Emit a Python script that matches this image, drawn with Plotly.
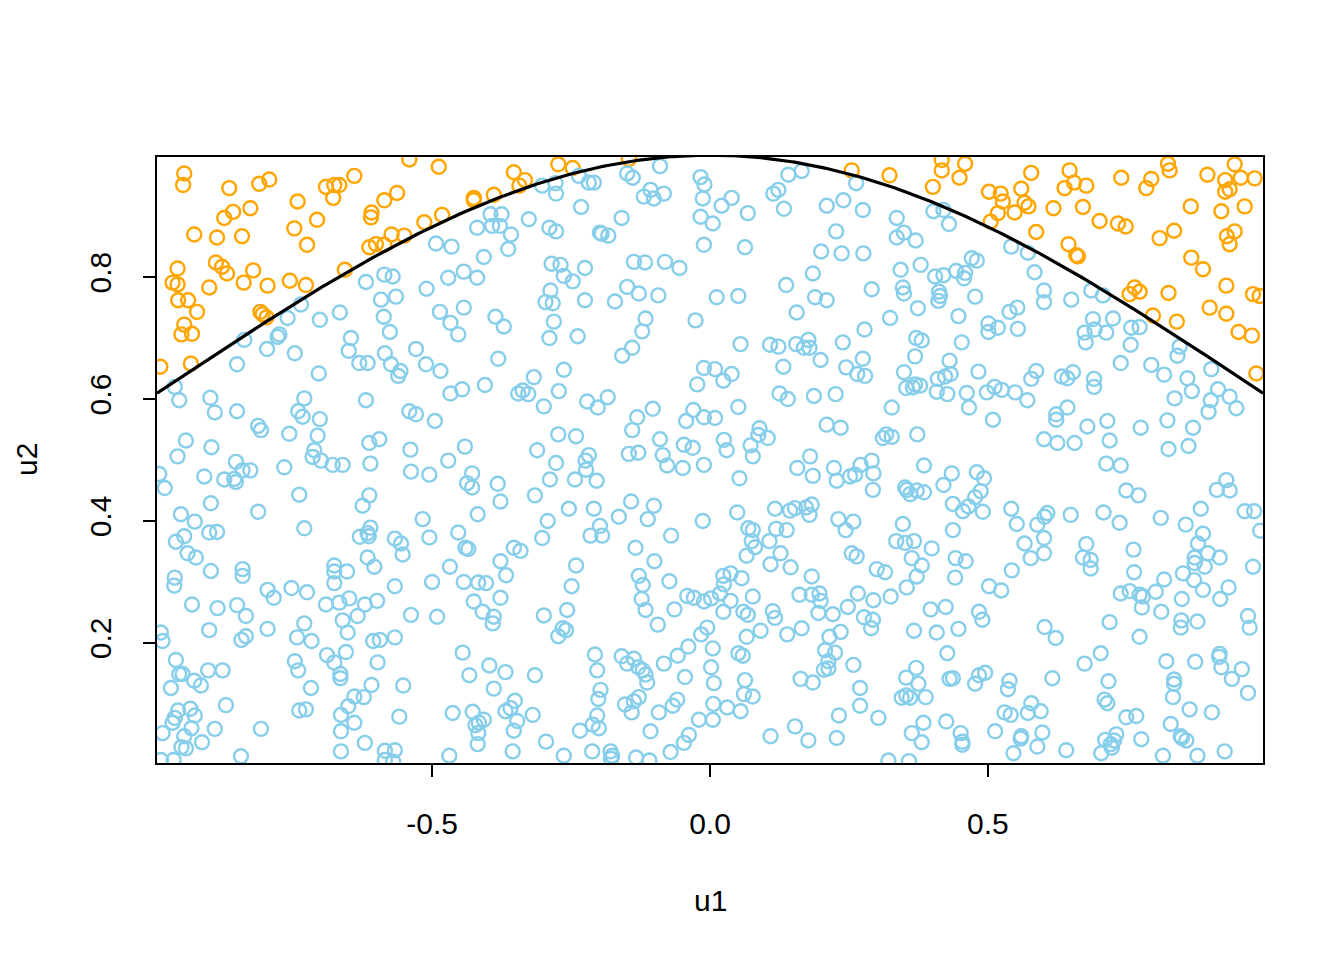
import numpy as np
import plotly.graph_objects as go

# Sample coordinates
u1 = [
    -0.541, -0.946, -0.948, -0.865, -0.811, -0.793, -0.640, -0.691, -0.676, -0.667, -0.678, -0.742, -0.827, -0.858,
    -0.874, -0.609, -0.610, -0.586, -0.563, -0.707, -0.748, -0.514, -0.928, -0.887, -0.842, -0.573, -0.550, -0.725,
    -0.613, -0.601, -0.586, -0.889, -0.878, -0.869, -0.958, -0.822, -0.967, -0.958, -0.839, -0.756, -0.796, -0.727,
    -0.901, -0.657, -0.957, -0.939, -0.923, -0.809, -0.805, -0.798, -0.946, -0.951, -0.932,
    -0.586, -0.571, -0.619, -0.510, -0.592, -0.565, -0.736, -0.666, -0.587, -0.760, -0.702, -0.576, -0.646, -0.775,
    -0.778, -0.838,
    -0.488, -0.353, -0.333, -0.343, -0.273, -0.247, -0.146, -0.425, -0.425, -0.389, -0.482,
    -0.302, -0.278, -0.277, -0.236, -0.218, -0.209, -0.149, -0.139, -0.090, -0.232, -0.119, -0.107, -0.101, -0.083,
    -0.159, -0.395, -0.375, -0.419, -0.392, -0.378, -0.358, -0.326, -0.289, -0.277, -0.198, -0.195, -0.183, -0.493,
    -0.465, -0.363, -0.407, -0.285, -0.269, -0.225, -0.263, -0.247, -0.443, -0.471, -0.419, -0.137, -0.117, -0.081,
    -0.055, -0.149, -0.128, -0.093, -0.171, -0.225, -0.287, -0.296, -0.283, -0.486, -0.443, -0.467, -0.386, -0.371,
    -0.281, -0.116, -0.122, -0.026, -0.453, -0.289, -0.238, -0.017, -0.010, -0.013, -0.017, 0.005, -0.011,
    0.255, 0.323, 0.417, 0.417, 0.459, 0.449, 0.401, 0.502, 0.505,
    0.141, 0.165, 0.263, 0.114, 0.123, 0.039, 0.021, 0.068, 0.133, 0.210, 0.240, 0.275, 0.336, 0.402, 0.420, 0.430,
    0.227, 0.336, 0.349, 0.370, 0.063, 0.200, 0.237, 0.276, 0.343, 0.379, 0.185, 0.137, 0.405, 0.420, 0.443, 0.459,
    0.457, 0.471, 0.480, 0.012, 0.051, 0.189, 0.210, 0.291, 0.347, 0.349, 0.412, 0.414, 0.411, 0.477, 0.156, 0.374,
    0.324, 0.447, 0.501, 0.501, 0.278,
    0.578, 0.647, 0.655, 0.638, 0.677, 0.740, 0.824, 0.827, 0.794, 0.785, 0.895, 0.944, 0.955, 0.980, 0.927, 0.927,
    0.935, 0.523, 0.527, 0.560, 0.566, 0.573, 0.518, 0.548, 0.618, 0.671, 0.865, 0.920, 0.962, 0.701, 0.734, 0.748,
    0.587, 0.835, 0.809, 0.930, 0.944, 0.935, 0.645, 0.659, 0.662, 0.866, 0.887, 0.929, 0.977, 0.989, 0.764, 0.755,
    0.773, 0.825, 0.899, 0.929, 0.797, 0.840, 0.951, 0.975,
    0.542, 0.572, 0.584, 0.601, 0.601, 0.650, 0.686, 0.707, 0.539, 0.553, 0.518, 0.554, 0.689, 0.692, 0.674, 0.713,
    0.725, 0.758, 0.773,
    -0.989, -0.934,
    -0.963, -0.797, -0.747, -0.851, -0.704, -0.650, -0.631, -0.616, -0.585, -0.574, -0.557, -0.561, -0.529, -0.511,
    -0.955, -0.899, -0.891, -0.851, -0.730, -0.741, -0.733, -0.702, -0.619, -0.541, -0.529, -0.495, -0.813, -0.808,
    -0.757, -0.706, -0.943, -0.897, -0.958, -0.613, -0.595, -0.539, -0.712, -0.715, -0.700, -0.679, -0.661, -0.611,
    -0.853, -0.841, -0.827, -0.766, -0.874, -0.856, -0.853, -0.910, -0.991, -0.981, -0.538, -0.505, -0.739, -0.613,
    -0.625, -0.898, -0.952, -0.927, -0.813, -0.730, -0.517, -0.611, -0.616, -0.630, -0.614, -0.901, -0.887, -0.946,
    -0.961, -0.567, -0.556, -0.505,
    -0.381, -0.158, -0.140, -0.011, -0.023, -0.485, -0.263, -0.317, -0.405, -0.467, -0.446, -0.345, -0.337, -0.327,
    -0.272, -0.299, -0.221, -0.202, -0.184, -0.103, -0.131, -0.140, -0.030, -0.043, -0.011, -0.273, -0.241, -0.090,
    -0.441, -0.311, -0.146, -0.129, -0.218, -0.224, -0.223, -0.277, -0.471, -0.047, -0.031, -0.085, -0.077, -0.049,
    -0.011, -0.428, -0.437, -0.428, -0.382, -0.288, -0.243, -0.204, -0.315, -0.377, -0.418, -0.254, -0.209, -0.142,
    -0.101, -0.164, -0.112, -0.013, -0.292, -0.453, -0.302, -0.215, -0.194, -0.198, -0.070, -0.440, -0.435, -0.353,
    -0.341, -0.134,
    0.055, 0.108, 0.123, 0.155, 0.169, 0.179, 0.177, 0.239, 0.371, 0.381, 0.453, 0.199, 0.275, 0.245, 0.265, 0.279,
    0.132, 0.009, 0.039, 0.024, 0.369, 0.349, 0.431, 0.410, 0.423, 0.433, 0.353, 0.365, 0.369, 0.378, 0.408, 0.427,
    0.483, 0.462, 0.498, 0.466, 0.125, 0.140, 0.187, 0.226, 0.051, 0.327, 0.009, 0.210, 0.235, 0.089, 0.087, 0.104,
    0.025, 0.030, 0.073, 0.077, 0.311, 0.317, 0.327, 0.373, 0.180, 0.157, 0.185, 0.223, 0.228, 0.252, 0.261, 0.271,
    0.291, 0.294, 0.293, 0.385, 0.053, 0.435, 0.420, 0.480, 0.493, 0.351, 0.354, 0.360, 0.372, 0.385, 0.487, 0.477,
    0.465, 0.455, 0.437, 0.491, 0.049, 0.117, 0.144, 0.153, 0.173, 0.183, 0.179, 0.231, 0.258, 0.244, 0.347, 0.437,
    0.069, 0.077, 0.075, 0.119, 0.138, 0.107, 0.335, 0.351, 0.367, 0.081, 0.399,
    0.983, 0.676, 0.757, 0.845, 0.841, 0.739, 0.794, 0.817, 0.859, 0.902, 0.587, 0.578, 0.633, 0.643, 0.653, 0.691,
    0.691, 0.512, 0.525, 0.549, 0.571, 0.867, 0.836, 0.914, 0.901, 0.897, 0.935, 0.947, 0.509, 0.643, 0.623, 0.623,
    0.679, 0.715, 0.775, 0.823, 0.869, 0.601, 0.625, 0.656, 0.719, 0.825, 0.861, 0.713, 0.739, 0.929, 0.912, 0.935,
    0.749, 0.771, 0.542, 0.607, 0.602, 0.589, 0.552, 0.649, 0.708, 0.737, 0.811, 0.883, 0.856, 0.962, 0.979, 0.990,
    0.887, 0.878, 0.601, 0.566, 0.677, 0.762,
    -0.940, -0.925, -0.898, -0.841, -0.841, -0.963, -0.964, -0.676, -0.676, -0.653, -0.676, -0.616, -0.604, -0.553,
    -0.500, -0.567, -0.796, -0.785, -0.753, -0.725, -0.932, -0.886, -0.851, -0.835, -0.691, -0.667, -0.649, -0.621,
    -0.599, -0.634, -0.661, -0.652, -0.538, -0.988, -0.985, -0.901, -0.843, -0.835, -0.796, -0.730, -0.743, -0.717,
    -0.606, -0.594, -0.567, -0.961, -0.689, -0.676, -0.655, -0.747, -0.741, -0.598, -0.955, -0.949, -0.903, -0.877,
    -0.928, -0.916, -0.970, -0.665, -0.665, -0.718, -0.609, -0.552, -0.640, -0.623, -0.651, -0.871, -0.957, -0.935,
    -0.927, -0.963, -0.967, -0.985, -0.739, -0.727, -0.664, -0.640, -0.559, -0.933, -0.891, -0.808, -0.946, -0.951,
    -0.943, -0.914, -0.664, -0.621, -0.664, -0.585, -0.567, -0.585, -0.570, -0.844, -0.988, -0.965,
    -0.377, -0.468, -0.241, -0.100, -0.367, -0.443, -0.417, -0.403, -0.128, -0.121, -0.123, -0.116, -0.073, -0.249,
    -0.377, -0.425, -0.409, -0.389, -0.391, -0.491, -0.299, -0.257, -0.273, -0.265, -0.259, -0.041, -0.029, -0.011,
    0.002, -0.064, -0.094, -0.016, -0.005, -0.445, -0.207, -0.159, -0.149, -0.137, -0.129, -0.121, -0.116, -0.113,
    -0.203, -0.083, -0.058, -0.039, 0.005, 0.002, 0.007, -0.397, -0.433, -0.368, -0.315, -0.045, -0.389, -0.197,
    -0.201, -0.128, -0.137, -0.153, -0.141, -0.059, -0.067, -0.092, -0.351, -0.359, -0.368, -0.347, -0.319, -0.463,
    -0.427, -0.407, -0.416, -0.422, -0.417, -0.418, -0.353, -0.203, -0.211, -0.200, -0.234, -0.107, -0.020, 0.005,
    -0.038, -0.047, -0.295, -0.355, -0.469, -0.263, -0.212, -0.179, -0.176, -0.178, -0.133, -0.109, -0.071,
    0.066, 0.127, 0.255, 0.264, 0.363, 0.442, 0.460, 0.109, 0.145, 0.024, 0.037, 0.025, 0.057, 0.183, 0.300, 0.315,
    0.381, 0.372, 0.354, 0.441, 0.502, 0.018, 0.037, 0.077, 0.161, 0.183, 0.197, 0.199, 0.266, 0.294, 0.325, 0.248,
    0.024, 0.060, 0.068, 0.113, 0.117, 0.195, 0.221, 0.277, 0.293, 0.290, 0.397, 0.424, 0.484, 0.490, 0.091, 0.066,
    0.139, 0.165, 0.235, 0.215, 0.367, 0.408, 0.447, 0.051, 0.059, 0.207, 0.225, 0.213, 0.205, 0.213, 0.258, 0.427,
    0.371, 0.353, 0.375, 0.431, 0.437, 0.484, 0.477, 0.495, 0.063, 0.163, 0.185, 0.270, 0.345, 0.353, 0.360, 0.388,
    0.061, 0.077, 0.006, 0.031, 0.055, 0.270, 0.232, 0.303, 0.153, 0.109, 0.177, 0.228, 0.384, 0.363, 0.381, 0.425,
    0.451, 0.454, 0.454, 0.321, 0.358,
    0.577, 0.601, 0.671, 0.685, 0.685, 0.872, 0.872, 0.890, 0.896, 0.917, 0.977, 0.543, 0.763, 0.851, 0.871, 0.887,
    0.817, 0.933, 0.918, 0.524, 0.739, 0.755, 0.773, 0.779, 0.777, 0.802, 0.849, 0.812, 0.719, 0.848, 0.847, 0.877,
    0.968, 0.971, 0.602, 0.622, 0.773, 0.703, 0.674, 0.821, 0.873, 0.917, 0.916, 0.920, 0.939, 0.957, 0.539, 0.536,
    0.616, 0.717, 0.835, 0.835, 0.833, 0.968, 0.710, 0.715, 0.578, 0.530, 0.541, 0.572, 0.595, 0.749, 0.767, 0.863,
    0.903, 0.829, 0.513, 0.560, 0.559, 0.598, 0.589, 0.546, 0.641, 0.731, 0.711, 0.727, 0.721, 0.723, 0.704, 0.776,
    0.847, 0.849, 0.857, 0.815, 0.877, 0.926,
]
u2 = [
    0.993, 0.970, 0.951, 0.946, 0.953, 0.960, 0.966, 0.948, 0.951, 0.951, 0.930, 0.924, 0.913, 0.907,
    0.897, 0.906, 0.898, 0.926, 0.938, 0.894, 0.880, 0.890, 0.870, 0.865, 0.867, 0.870, 0.868, 0.853,
    0.849, 0.854, 0.853, 0.824, 0.817, 0.806, 0.814, 0.811, 0.791, 0.788, 0.791, 0.794, 0.786, 0.787,
    0.783, 0.812, 0.762, 0.762, 0.743, 0.743, 0.739, 0.734, 0.722, 0.706, 0.707,
    0.804, 0.801, 0.792, 0.781, 0.763, 0.768, 0.755, 0.742, 0.735, 0.733, 0.730, 0.710, 0.700, 0.706,
    0.702, 0.697,
    0.981, 0.972, 0.959, 0.950, 0.985, 0.979, 0.994, 0.930, 0.926, 0.935, 0.902,
    0.950, 0.954, 0.937, 0.966, 0.955, 0.955, 0.970, 0.963, 0.982, 0.915, 0.932, 0.943, 0.929, 0.937,
    0.897, 0.903, 0.903, 0.881, 0.884, 0.884, 0.870, 0.895, 0.881, 0.875, 0.873, 0.871, 0.868, 0.855,
    0.850, 0.846, 0.833, 0.822, 0.820, 0.815, 0.802, 0.793, 0.809, 0.799, 0.799, 0.825, 0.824, 0.825,
    0.815, 0.784, 0.773, 0.770, 0.760, 0.762, 0.778, 0.759, 0.757, 0.743, 0.750, 0.725, 0.735, 0.719,
    0.727, 0.732, 0.711, 0.729, 0.706, 0.700, 0.703, 0.964, 0.952, 0.929, 0.899, 0.888, 0.853,
    0.975, 0.967, 0.992, 0.975, 0.986, 0.963, 0.948, 0.940, 0.891,
    0.968, 0.974, 0.954, 0.937, 0.943, 0.930, 0.917, 0.905, 0.912, 0.917, 0.926, 0.910, 0.897, 0.908, 0.910, 0.887,
    0.875, 0.865, 0.873, 0.860, 0.849, 0.842, 0.839, 0.839, 0.812, 0.820, 0.806, 0.787, 0.801, 0.803, 0.810, 0.807,
    0.798, 0.831, 0.827, 0.767, 0.769, 0.767, 0.762, 0.780, 0.783, 0.773, 0.776, 0.769, 0.761, 0.768, 0.742, 0.749,
    0.733, 0.736, 0.724, 0.710, 0.714,
    0.971, 0.975, 0.955, 0.946, 0.950, 0.963, 0.986, 0.975, 0.961, 0.946, 0.968, 0.985, 0.963, 0.962, 0.959, 0.940,
    0.944, 0.937, 0.924, 0.945, 0.922, 0.916, 0.905, 0.906, 0.913, 0.915, 0.916, 0.908, 0.916, 0.892, 0.888, 0.883,
    0.874, 0.876, 0.864, 0.867, 0.875, 0.854, 0.854, 0.836, 0.834, 0.832, 0.813, 0.786, 0.772, 0.769, 0.783, 0.772,
    0.776, 0.774, 0.750, 0.740, 0.737, 0.727, 0.710, 0.704,
    0.850, 0.840, 0.808, 0.778, 0.759, 0.763, 0.778, 0.770, 0.743, 0.750, 0.717, 0.715, 0.731, 0.714, 0.709, 0.709,
    0.732, 0.717, 0.718,
    0.653, 0.658,
    0.620, 0.682, 0.675, 0.657, 0.642, 0.679, 0.659, 0.659, 0.675, 0.657, 0.646, 0.638, 0.682, 0.657,
    0.598, 0.602, 0.578, 0.580, 0.601, 0.580, 0.571, 0.567, 0.598, 0.580, 0.575, 0.564, 0.556, 0.549,
    0.543, 0.540, 0.532, 0.521, 0.506, 0.528, 0.534, 0.517, 0.516, 0.505, 0.499, 0.492, 0.492, 0.494,
    0.497, 0.483, 0.483, 0.488, 0.468, 0.469, 0.464, 0.473, 0.477, 0.454, 0.481, 0.476, 0.443, 0.442,
    0.425, 0.429, 0.411, 0.399, 0.415, 0.388, 0.403, 0.389, 0.380, 0.374, 0.375, 0.381, 0.382, 0.375,
    0.366, 0.371, 0.363, 0.373,
    0.666, 0.671, 0.684, 0.651, 0.624, 0.646, 0.648, 0.636, 0.623, 0.609, 0.616, 0.609, 0.614, 0.608,
    0.613, 0.588, 0.596, 0.586, 0.603, 0.584, 0.570, 0.549, 0.582, 0.564, 0.570, 0.542, 0.539, 0.534,
    0.522, 0.516, 0.510, 0.512, 0.508, 0.499, 0.484, 0.495, 0.499, 0.525, 0.520, 0.508, 0.491, 0.487,
    0.492, 0.478, 0.462, 0.455, 0.461, 0.468, 0.468, 0.466, 0.442, 0.432, 0.411, 0.420, 0.420, 0.432,
    0.425, 0.407, 0.403, 0.400, 0.400, 0.381, 0.372, 0.376, 0.376, 0.392, 0.376, 0.356, 0.354, 0.356,
    0.351, 0.356,
    0.690, 0.689, 0.686, 0.690, 0.684, 0.684, 0.697, 0.693, 0.700, 0.696, 0.693, 0.664, 0.666, 0.652, 0.641, 0.638,
    0.653, 0.649, 0.641, 0.630, 0.670, 0.644, 0.663, 0.633, 0.637, 0.641, 0.618, 0.619, 0.624, 0.622, 0.612, 0.608,
    0.645, 0.610, 0.611, 0.586, 0.609, 0.600, 0.605, 0.608, 0.587, 0.586, 0.569, 0.558, 0.553, 0.552, 0.541, 0.536,
    0.533, 0.516, 0.524, 0.506, 0.536, 0.542, 0.538, 0.542, 0.506, 0.487, 0.474, 0.487, 0.466, 0.473, 0.476, 0.492,
    0.499, 0.478, 0.451, 0.491, 0.470, 0.478, 0.459, 0.480, 0.470, 0.455, 0.451, 0.444, 0.450, 0.447, 0.449, 0.439,
    0.424, 0.416, 0.428, 0.415, 0.414, 0.420, 0.417, 0.421, 0.422, 0.427, 0.410, 0.403, 0.399, 0.385, 0.395, 0.385,
    0.388, 0.385, 0.367, 0.387, 0.385, 0.367, 0.367, 0.364, 0.367, 0.357, 0.355,
    0.642, 0.693, 0.689, 0.686, 0.671, 0.659, 0.656, 0.640, 0.634, 0.649, 0.646, 0.633, 0.637, 0.634, 0.644, 0.633,
    0.620, 0.620, 0.615, 0.611, 0.598, 0.613, 0.601, 0.616, 0.598, 0.579, 0.604, 0.585, 0.566, 0.586, 0.575, 0.566,
    0.555, 0.564, 0.553, 0.565, 0.553, 0.534, 0.528, 0.528, 0.532, 0.518, 0.523, 0.494, 0.491, 0.467, 0.451, 0.450,
    0.450, 0.442, 0.420, 0.413, 0.407, 0.394, 0.395, 0.410, 0.414, 0.397, 0.405, 0.420, 0.394, 0.416, 0.416, 0.384,
    0.379, 0.363, 0.372, 0.363, 0.362, 0.353,
    0.347, 0.340, 0.318, 0.321, 0.310, 0.307, 0.294, 0.327, 0.317, 0.317, 0.298, 0.340, 0.325, 0.345,
    0.300, 0.293, 0.287, 0.274, 0.290, 0.283, 0.263, 0.257, 0.262, 0.244, 0.263, 0.266, 0.273, 0.263,
    0.269, 0.244, 0.237, 0.217, 0.246, 0.217, 0.203, 0.221, 0.205, 0.211, 0.223, 0.232, 0.209, 0.203,
    0.203, 0.205, 0.209, 0.172, 0.180, 0.168, 0.185, 0.170, 0.155, 0.168, 0.149, 0.149, 0.155, 0.155,
    0.138, 0.130, 0.126, 0.149, 0.142, 0.126, 0.131, 0.130, 0.112, 0.111, 0.096, 0.098, 0.089, 0.092,
    0.081, 0.077, 0.069, 0.052, 0.089, 0.091, 0.082, 0.069, 0.079, 0.060, 0.059, 0.059, 0.047, 0.029,
    0.027, 0.037, 0.055, 0.036, 0.022, 0.023, 0.024, 0.008, 0.005, 0.014, 0.008, 0.008,
    0.334, 0.325, 0.327, 0.334, 0.311, 0.300, 0.299, 0.298, 0.310, 0.295, 0.272, 0.254, 0.301, 0.293,
    0.274, 0.268, 0.251, 0.243, 0.232, 0.243, 0.245, 0.254, 0.211, 0.224, 0.221, 0.277, 0.274, 0.268,
    0.273, 0.255, 0.230, 0.214, 0.225, 0.184, 0.181, 0.178, 0.166, 0.174, 0.160, 0.155, 0.148, 0.135,
    0.155, 0.166, 0.179, 0.194, 0.191, 0.160, 0.134, 0.163, 0.147, 0.152, 0.147, 0.144, 0.125, 0.123,
    0.108, 0.111, 0.104, 0.099, 0.086, 0.107, 0.097, 0.086, 0.105, 0.093, 0.088, 0.072, 0.082, 0.085,
    0.087, 0.074, 0.069, 0.065, 0.052, 0.034, 0.056, 0.081, 0.066, 0.060, 0.056, 0.055, 0.074, 0.074,
    0.049, 0.036, 0.038, 0.022, 0.015, 0.015, 0.022, 0.022, 0.015, 0.010, 0.012, 0.007, 0.021,
    0.343, 0.347, 0.347, 0.342, 0.339, 0.339, 0.334, 0.329, 0.324, 0.310, 0.314, 0.296, 0.306, 0.309, 0.321, 0.316,
    0.327, 0.309, 0.291, 0.307, 0.293, 0.281, 0.269, 0.276, 0.279, 0.279, 0.281, 0.269, 0.281, 0.270, 0.276, 0.259,
    0.251, 0.251, 0.246, 0.252, 0.241, 0.249, 0.247, 0.242, 0.238, 0.224, 0.255, 0.259, 0.251, 0.238, 0.220, 0.210,
    0.214, 0.224, 0.218, 0.210, 0.220, 0.217, 0.223, 0.183, 0.179, 0.188, 0.184, 0.170, 0.156, 0.158, 0.164, 0.183,
    0.159, 0.143, 0.133, 0.141, 0.142, 0.147, 0.133, 0.151, 0.139, 0.141, 0.135, 0.126, 0.110, 0.114, 0.110, 0.111,
    0.116, 0.112, 0.100, 0.094, 0.088, 0.097, 0.081, 0.077, 0.063, 0.047, 0.040, 0.044, 0.069, 0.052, 0.037, 0.071,
    0.052, 0.038, 0.033, 0.007, 0.006,
    0.339, 0.347, 0.340, 0.336, 0.322, 0.340, 0.331, 0.325, 0.347, 0.340, 0.325, 0.319, 0.316, 0.314, 0.303, 0.287,
    0.304, 0.291, 0.272, 0.286, 0.281, 0.285, 0.279, 0.276, 0.258, 0.284, 0.272, 0.251, 0.234, 0.237, 0.225, 0.235,
    0.244, 0.225, 0.226, 0.208, 0.210, 0.183, 0.166, 0.170, 0.169, 0.182, 0.177, 0.160, 0.141, 0.157, 0.138, 0.124,
    0.142, 0.137, 0.140, 0.133, 0.111, 0.118, 0.107, 0.101, 0.101, 0.086, 0.082, 0.085, 0.088, 0.078, 0.080, 0.091,
    0.086, 0.067, 0.055, 0.047, 0.043, 0.053, 0.030, 0.019, 0.024, 0.050, 0.041, 0.040, 0.034, 0.028, 0.019, 0.042,
    0.047, 0.044, 0.040, 0.015, 0.015, 0.022,
]


def bound(x):
    """Acceptance boundary drawn in the chart."""
    return np.exp(-np.asarray(x) ** 2 / 2)


x = np.array(u1)
y = np.array(u2)
above = y > bound(x)

ORANGE = "#FFA500"
SKYBLUE = "#87CEEB"
FONT = "Liberation Sans, Arial, sans-serif"

fig = go.Figure()
fig.add_trace(go.Scatter(
    x=x, y=y, mode="markers",
    marker=dict(symbol="circle-open", size=14,
                color=[ORANGE if a else SKYBLUE for a in above],
                line=dict(width=2.4)),
    showlegend=False, hoverinfo="skip"))

xs = np.linspace(-0.995, 0.995, 400)
fig.add_trace(go.Scatter(x=xs, y=bound(xs), mode="lines",
                         line=dict(color="black", width=3.2),
                         showlegend=False, hoverinfo="skip"))

axis_common = dict(showgrid=False, zeroline=False, showline=True, mirror=True,
                   linecolor="black", linewidth=1.5, ticks="outside", ticklen=12,
                   tickwidth=1.5, tickcolor="black",
                   tickfont=dict(family=FONT, size=30, color="black"))

fig.update_layout(
    width=1336, height=952,
    margin=dict(l=149, r=81, t=149, b=197),
    paper_bgcolor="white", plot_bgcolor="white",
    xaxis=dict(range=[-0.995, 0.995], tickvals=[-0.5, 0, 0.5],
               ticktext=["-0.5", "0.0", "0.5"], ticklabelstandoff=21, **axis_common),
    yaxis=dict(range=[0.003, 0.997], tickvals=[0.2, 0.4, 0.6, 0.8],
               ticktext=["0.2", "0.4", "0.6", "0.8"], tickangle=-90,
               ticklabelstandoff=20, **axis_common),
    annotations=[
        dict(text="u1", xref="x", x=0, yref="paper", y=0, yanchor="middle",
             yshift=-137, showarrow=False, font=dict(family=FONT, size=30, color="black")),
        dict(text="u2", xref="paper", x=0, xanchor="center", xshift=-131,
             yref="paper", y=0.5, yanchor="middle", textangle=-90,
             showarrow=False, font=dict(family=FONT, size=30, color="black")),
    ],
)

fig.write_html("out.html")
